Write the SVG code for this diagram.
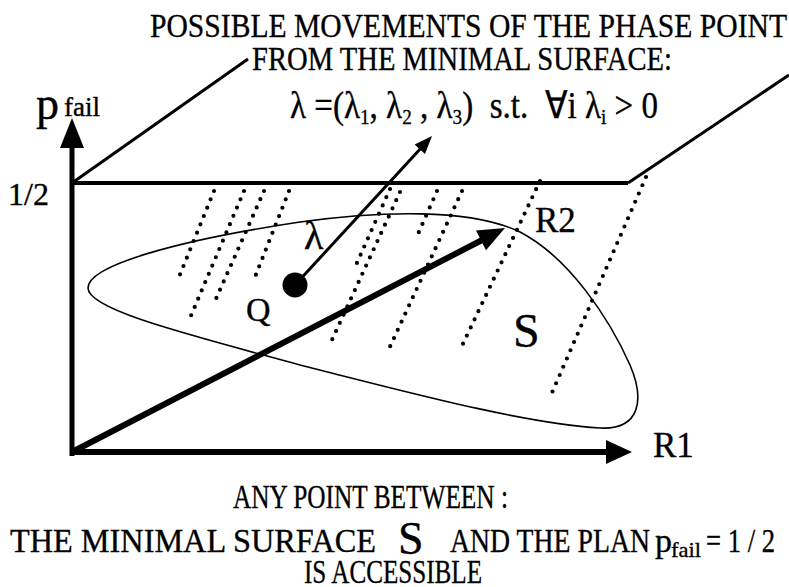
<svg xmlns="http://www.w3.org/2000/svg" width="789" height="587" viewBox="0 0 789 587">
<style>
.t{font-family:"Liberation Serif","Times New Roman",serif;fill:#000;stroke:#000;stroke-width:0.35}
.ln{stroke:#000;fill:none}
.dot{stroke:#000;stroke-width:4.2;stroke-linecap:round;stroke-dasharray:0 9;fill:none}
</style>
<rect width="789" height="587" fill="#fff"/>
<g id="title">
<text class="t" x="150" y="37" font-size="34" textLength="637" lengthAdjust="spacingAndGlyphs">POSSIBLE MOVEMENTS OF THE PHASE POINT</text>
<text class="t" x="252" y="70" font-size="34" textLength="420" lengthAdjust="spacingAndGlyphs">FROM THE MINIMAL SURFACE:</text>
</g>
<g id="plane">
<line class="ln" x1="72" y1="183" x2="628" y2="183" stroke-width="4"/>
<line class="ln" x1="72" y1="183" x2="248" y2="59" stroke-width="3"/>
<line class="ln" x1="628" y1="183" x2="789" y2="75" stroke-width="3"/>
</g>
<g id="dotted-lines">
<line class="dot" x1="214" y1="191" x2="179" y2="277"/>
<line class="dot" x1="244" y1="191" x2="190" y2="318"/>
<line class="dot" x1="264" y1="191" x2="215" y2="301"/>
<line class="dot" x1="289" y1="191" x2="255" y2="277"/>
<line class="dot" x1="390" y1="189" x2="356" y2="265"/>
<line class="dot" x1="400" y1="192" x2="331" y2="342"/>
<line class="dot" x1="437" y1="191" x2="418" y2="234"/>
<line class="dot" x1="462" y1="191" x2="388" y2="351"/>
<line class="dot" x1="540" y1="181" x2="461" y2="348"/>
<line class="dot" x1="646" y1="177" x2="551" y2="395"/>
</g>
<g id="surface-S">
<path class="ln" stroke-width="1.6" d="M88,288 C88,265 180,240 300,222 C380,211 470,208 520,232 C570,258 610,320 630,365 C645,400 640,430 600,428 C520,423 400,390 300,365 C190,335 88,310 88,288 Z"/>
<text class="t" x="513" y="347" font-size="48">S</text>
</g>
<g id="axes">
<line class="ln" x1="72" y1="456" x2="72" y2="140" stroke-width="5"/>
<polygon points="72,118 60,148 84,148" fill="#000"/>
<line class="ln" x1="70" y1="452" x2="610" y2="452" stroke-width="6"/>
<polygon points="632,452 606,440 606,464" fill="#000"/>
<text class="t" x="36" y="119" font-size="46">p</text>
<text class="t" x="64" y="116" font-size="27">fail</text>
<text class="t" x="8" y="205" font-size="32">1/2</text>
<text class="t" x="653" y="457" font-size="35">R1</text>
</g>
<g id="connectors">
<line class="ln" x1="74" y1="451" x2="486" y2="238" stroke-width="6"/>
<polygon points="505,228 476,230.6 486,250.2" fill="#000"/>
<line class="ln" x1="295" y1="285" x2="422" y2="147" stroke-width="3"/>
<polygon points="432,136 414.6,144.5 425,154" fill="#000"/>
</g>
<g id="point-Q">
<circle cx="295" cy="285" r="12.5" fill="#000"/>
<text class="t" x="246" y="321" font-size="34">Q</text>
<text class="t" x="304" y="249" font-size="40">λ</text>
</g>
<g id="point-R2">
<text class="t" x="535" y="232" font-size="35">R2</text>
</g>
<g id="formula">
<text class="t" x="290" y="118" font-size="38" textLength="368" lengthAdjust="spacingAndGlyphs" xml:space="preserve">λ =(λ<tspan dy="6" font-size="22">1</tspan><tspan dy="-6">, λ</tspan><tspan dy="6" font-size="22">2</tspan><tspan dy="-6"> , λ</tspan><tspan dy="6" font-size="22">3</tspan><tspan dy="-6">)  s.t.  ∀i λ</tspan><tspan dy="6" font-size="22">i</tspan><tspan dy="-6"> &gt; 0</tspan></text>
</g>
<g id="caption">
<text class="t" x="233" y="508" font-size="34" textLength="275" lengthAdjust="spacingAndGlyphs">ANY POINT BETWEEN :</text>
<text class="t" x="10" y="552" font-size="34" textLength="366" lengthAdjust="spacingAndGlyphs">THE MINIMAL SURFACE</text>
<text class="t" x="398" y="554" font-size="46">S</text>
<text class="t" x="450" y="552" font-size="34" textLength="200" lengthAdjust="spacingAndGlyphs">AND THE PLAN</text>
<text class="t" x="655" y="552" font-size="34">p</text>
<text class="t" x="671" y="557" font-size="22" textLength="30" lengthAdjust="spacingAndGlyphs">fail</text>
<text class="t" x="706" y="552" font-size="34" textLength="69" lengthAdjust="spacingAndGlyphs">= 1 / 2</text>
<text class="t" x="304" y="583" font-size="34" textLength="178" lengthAdjust="spacingAndGlyphs">IS ACCESSIBLE</text>
</g>
</svg>
